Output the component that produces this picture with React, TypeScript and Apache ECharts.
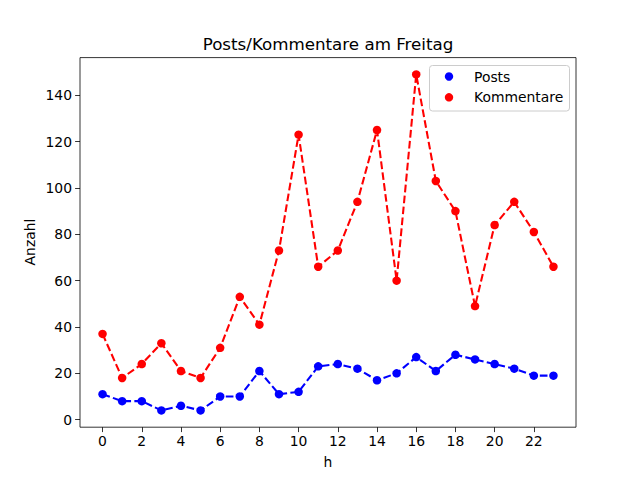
import React, { useEffect, useRef } from "react";
import * as echarts from "echarts";

const hours = Array.from({ length: 24 }, (_, i) => i);
const posts = [11, 8, 8, 4, 6, 4, 10, 10, 21, 11, 12, 23, 24, 22, 17, 20, 27, 21, 28, 26, 24, 22, 19, 19];
const kommentare = [37, 18, 24, 33, 21, 18, 31, 53, 41, 73, 123, 66, 73, 94, 125, 60, 149, 103, 90, 49, 84, 94, 81, 66];
const xTicks = [0, 2, 4, 6, 8, 10, 12, 14, 16, 18, 20, 22];
const yTicks = [0, 20, 40, 60, 80, 100, 120, 140];
const titleText = "Posts/Kommentare am Freitag";
const xName = "h";
const yName = "Anzahl";
const legendNames = ["Posts", "Kommentare"];

const FONT = "DejaVu Sans";

export default function App() {
  const ref = useRef<HTMLDivElement>(null);
  useEffect(() => {
    document.body.style.margin = "0";
    const chart = echarts.init(ref.current!, undefined, { renderer: "svg" });
    const grid = { left: 80, right: 64, top: 57.6, bottom: 52.8 };
    const lineSeries = (name: string, vals: number[], color: string) => ({
      name,
      type: "line",
      data: hours.map((h, i) => [h, vals[i]]),
      symbol: "circle",
      symbolSize: 8.5,
      itemStyle: { color },
      lineStyle: { color, width: 2.08, type: [7.7, 3.3] },
      z: 3,
    });
    const axisCommon = {
      type: "value",
      axisLine: { show: false, onZero: false },
      splitLine: { show: false },
    };
    chart.setOption({
      animation: false,
      backgroundColor: "#ffffff",
      grid: { ...grid, show: true, borderColor: "#000", borderWidth: 0.8, backgroundColor: "#fff" },
      xAxis: {
        ...axisCommon,
        min: -1.15,
        max: 24.15,
        axisTick: { show: true, length: 4.9, inside: false, lineStyle: { color: "#000", width: 0.8 }, customValues: xTicks },
        axisLabel: { customValues: xTicks, color: "#000", fontFamily: FONT, fontSize: 13.9, margin: 7 },
      },
      yAxis: {
        ...axisCommon,
        min: -3.25,
        max: 156.25,
        axisTick: { show: true, length: 4.9, inside: false, lineStyle: { color: "#000", width: 0.8 }, customValues: yTicks },
        axisLabel: { customValues: yTicks, color: "#000", fontFamily: FONT, fontSize: 13.9, margin: 8 },
      },
      series: [lineSeries(legendNames[0], posts, "#0000ff"), lineSeries(legendNames[1], kommentare, "#ff0000")],
      graphic: [
        {
          type: "text",
          x: 328,
          y: 44,
          style: { text: titleText, font: `16.7px ${FONT}`, fill: "#000", align: "center", verticalAlign: "middle" },
        },
        {
          type: "text",
          x: 328,
          y: 462,
          style: { text: xName, font: `13.9px ${FONT}`, fill: "#000", align: "center", verticalAlign: "middle" },
        },
        {
          type: "text",
          x: 30,
          y: 242,
          rotation: Math.PI / 2,
          style: { text: yName, font: `13.9px ${FONT}`, fill: "#000", align: "center", verticalAlign: "middle" },
        },
        {
          type: "rect",
          z: 10,
          shape: { x: 429.5, y: 65.5, width: 140, height: 45.5, r: 3 },
          style: { fill: "rgba(255,255,255,0.8)", stroke: "#cccccc", lineWidth: 1 },
        },
        {
          type: "circle",
          z: 11,
          shape: { cx: 449, cy: 76.5, r: 4.2 },
          style: { fill: "#0000ff" },
        },
        {
          type: "circle",
          z: 11,
          shape: { cx: 449, cy: 97.3, r: 4.2 },
          style: { fill: "#ff0000" },
        },
        {
          type: "text",
          z: 11,
          x: 474,
          y: 76.5,
          style: { text: legendNames[0], font: `13.9px ${FONT}`, fill: "#000", align: "left", verticalAlign: "middle" },
        },
        {
          type: "text",
          z: 11,
          x: 474,
          y: 97.3,
          style: { text: legendNames[1], font: `13.9px ${FONT}`, fill: "#000", align: "left", verticalAlign: "middle" },
        },
      ],
    });
    return () => chart.dispose();
  }, []);
  return <div ref={ref} style={{ width: 640, height: 480 }} />;
}
